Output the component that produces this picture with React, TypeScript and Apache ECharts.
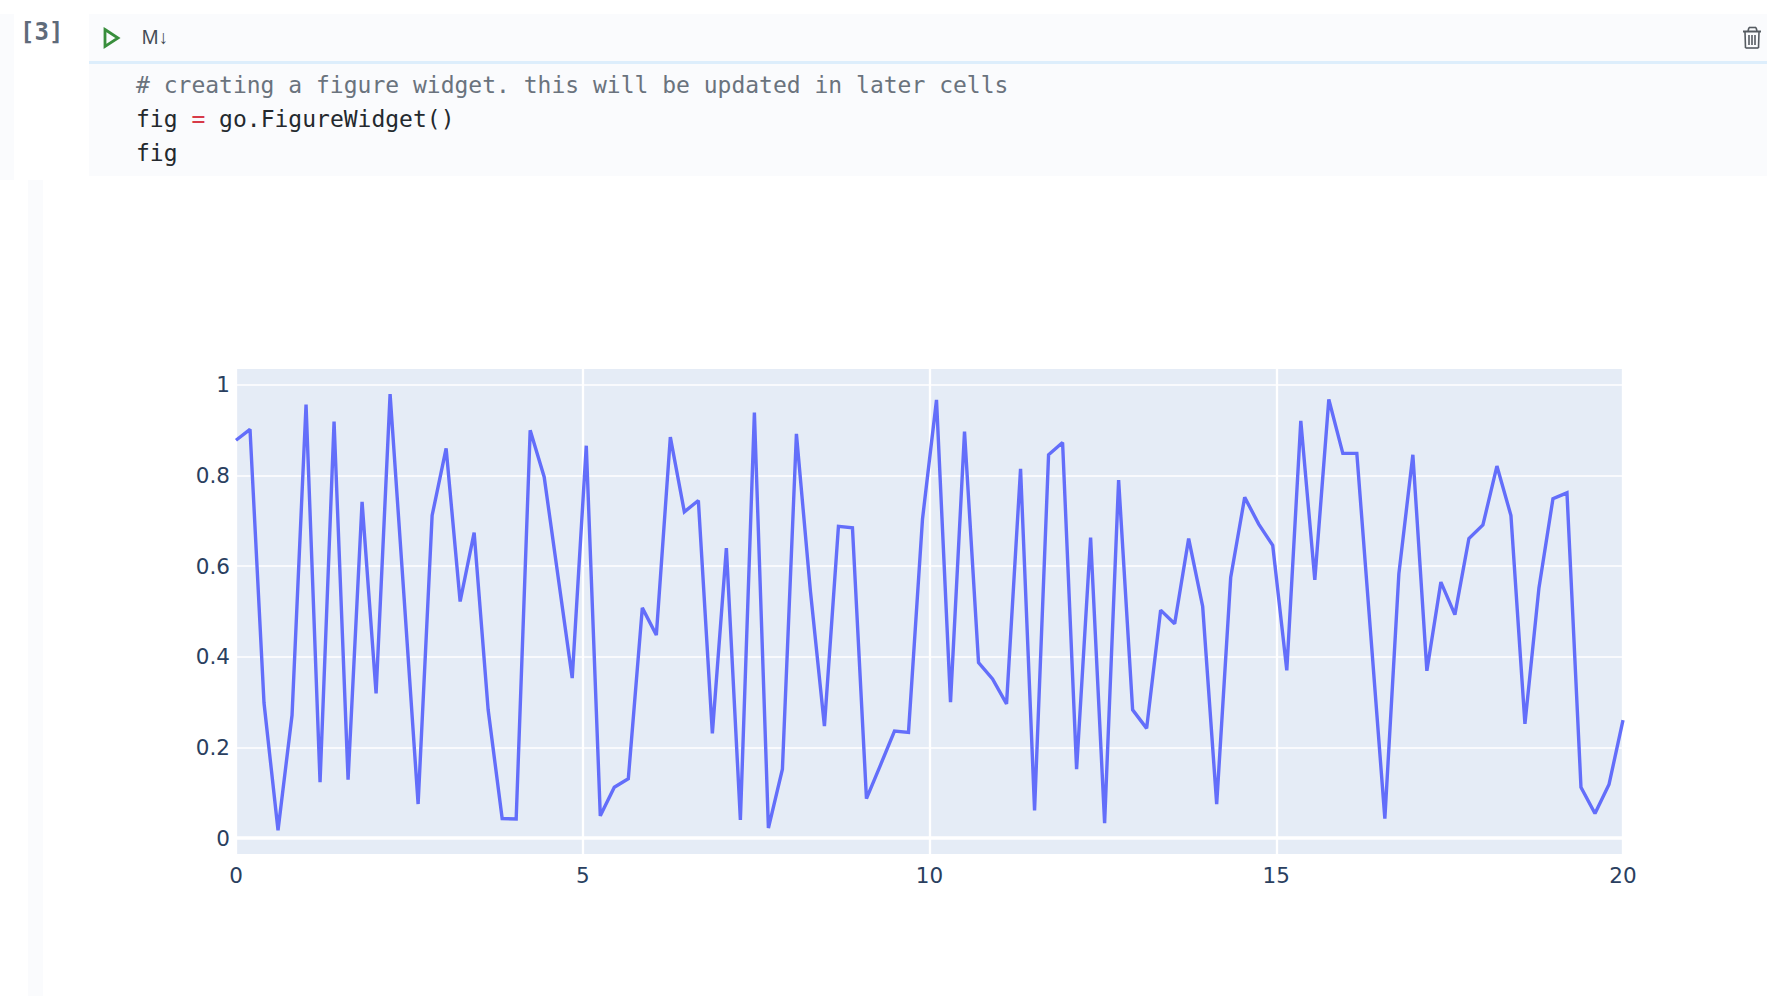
import React, { useEffect, useRef } from "react";
import * as echarts from "echarts";

const xValues = [
  0, 0.202, 0.404, 0.606, 0.808, 1.01, 1.212, 1.414, 1.616, 1.818,
  2.02, 2.222, 2.424, 2.626, 2.828, 3.03, 3.232, 3.434, 3.636, 3.838,
  4.04, 4.242, 4.444, 4.646, 4.848, 5.051, 5.253, 5.455, 5.657, 5.859,
  6.061, 6.263, 6.465, 6.667, 6.869, 7.071, 7.273, 7.475, 7.677, 7.879,
  8.081, 8.283, 8.485, 8.687, 8.889, 9.091, 9.293, 9.495, 9.697, 9.899,
  10.101, 10.303, 10.505, 10.707, 10.909, 11.111, 11.313, 11.515, 11.717, 11.919,
  12.121, 12.323, 12.525, 12.727, 12.929, 13.131, 13.333, 13.535, 13.737, 13.939,
  14.141, 14.343, 14.545, 14.747, 14.949, 15.152, 15.354, 15.556, 15.758, 15.96,
  16.162, 16.364, 16.566, 16.768, 16.97, 17.172, 17.374, 17.576, 17.778, 17.98,
  18.182, 18.384, 18.586, 18.788, 18.99, 19.192, 19.394, 19.596, 19.798, 20,
];

const yValues = [
  0.878, 0.902, 0.298, 0.017, 0.271, 0.957, 0.123, 0.919, 0.129, 0.742,
  0.319, 0.98, 0.53, 0.075, 0.712, 0.86, 0.522, 0.674, 0.283, 0.043,
  0.042, 0.9, 0.797, 0.575, 0.353, 0.866, 0.049, 0.112, 0.131, 0.508,
  0.448, 0.885, 0.72, 0.745, 0.231, 0.64, 0.04, 0.939, 0.022, 0.152,
  0.892, 0.545, 0.247, 0.688, 0.685, 0.087, 0.161, 0.236, 0.233, 0.704,
  0.967, 0.3, 0.897, 0.387, 0.351, 0.296, 0.815, 0.061, 0.846, 0.873,
  0.152, 0.663, 0.033, 0.79, 0.283, 0.242, 0.503, 0.473, 0.661, 0.511,
  0.075, 0.575, 0.752, 0.693, 0.646, 0.37, 0.921, 0.57, 0.968, 0.849,
  0.849, 0.446, 0.043, 0.583, 0.846, 0.369, 0.565, 0.493, 0.661, 0.691,
  0.821, 0.712, 0.252, 0.552, 0.749, 0.762, 0.112, 0.054, 0.118, 0.26,
];

const yTicks = [0, 0.2, 0.4, 0.6, 0.8, 1];
const commentLine = "# creating a figure widget. this will be updated in later cells";
const codeFig = "fig";
const codeEquals = "=";
const codeCall = "go.FigureWidget()";
const promptLabel = "[3]";
const cellKind = "M↓";

const MONO = "'DejaVu Sans Mono', monospace";
const CHAR = 13.85;
const PANEL = "#fafbfd";

function codeText(text: string, col: number, y: number, fill: string) {
  return {
    type: "text",
    x: 136 + col * CHAR,
    y,
    silent: true,
    style: { text, fill, font: `23px ${MONO}`, textVerticalAlign: "middle" },
  };
}

function panel(x: number, y: number, width: number, height: number, fill = PANEL) {
  return { type: "rect", silent: true, shape: { x, y, width, height }, style: { fill } };
}

function trashLine(x1: number, y1: number, x2: number, y2: number, lineWidth = 1.6) {
  return {
    type: "line",
    silent: true,
    shape: { x1, y1, x2, y2 },
    style: { stroke: "#555b61", lineWidth },
  };
}

const chrome = [
  panel(0, 14, 14, 166),
  panel(89, 14, 1678, 162),
  panel(89, 61, 1678, 3, "#ddeefc"),
  panel(28, 180, 15, 816),
  {
    type: "polygon",
    silent: true,
    shape: { points: [[105, 29.5], [118, 38], [105, 46.5]] },
    style: { fill: "none", stroke: "#388e3c", lineWidth: 2.8 },
  },
  {
    type: "text",
    x: 141.5,
    y: 37,
    silent: true,
    style: { text: cellKind, fill: "#444c55", font: "19px 'Noto Sans', sans-serif", textVerticalAlign: "middle" },
  },
  {
    type: "text",
    x: 20,
    y: 31.5,
    silent: true,
    style: { text: promptLabel, fill: "#5f6b7a", font: `bold 24px ${MONO}`, textVerticalAlign: "middle" },
  },
  codeText(commentLine, 0, 85, "#6a737d"),
  codeText(codeFig, 0, 119, "#24292e"),
  codeText(codeEquals, 4, 119, "#d73a49"),
  codeText(codeCall, 6, 119, "#24292e"),
  codeText(codeFig, 0, 153, "#24292e"),
  trashLine(1743, 31.5, 1761, 31.5, 2),
  trashLine(1748, 31, 1749, 27.5),
  trashLine(1749, 27.5, 1756, 27.5),
  trashLine(1756, 27.5, 1757, 31),
  trashLine(1745, 32, 1745.5, 48),
  trashLine(1745.5, 48, 1758.5, 48),
  trashLine(1758.5, 48, 1759, 32),
  trashLine(1749, 35, 1749, 45),
  trashLine(1752, 35, 1752, 45),
  trashLine(1755, 35, 1755, 45),
];

export default function App() {
  const ref = useRef<HTMLDivElement>(null);

  useEffect(() => {
    document.body.style.margin = "0";
    document.body.style.overflow = "hidden";
    const chart = echarts.init(ref.current!, undefined, { renderer: "svg" });
    chart.setOption({
      animation: false,
      backgroundColor: "#ffffff",
      graphic: chrome,
      grid: {
        left: 236,
        top: 369,
        width: 1387,
        height: 485,
        show: true,
        backgroundColor: "#e5ecf6",
        borderWidth: 0,
      },
      xAxis: {
        type: "value",
        min: 0,
        max: 20,
        interval: 5,
        axisLine: { show: false },
        axisTick: { show: false },
        axisLabel: { color: "#2a3f5f", fontFamily: "'DejaVu Sans'", fontSize: 21.5, margin: 10 },
        splitLine: { show: true, lineStyle: { color: "#ffffff", width: 2.3 } },
      },
      yAxis: {
        type: "value",
        min: -0.0353,
        max: 1.0353,
        axisLine: { show: false },
        axisTick: { show: false, customValues: yTicks },
        axisLabel: {
          customValues: yTicks,
          color: "#2a3f5f",
          fontFamily: "'DejaVu Sans'",
          fontSize: 21.5,
          margin: 6,
        },
        splitLine: { show: true, lineStyle: { color: "#ffffff", width: 1.6 } },
      },
      series: [
        {
          type: "line",
          data: xValues.map((x, i) => [x, yValues[i]]),
          showSymbol: false,
          symbol: "none",
          lineStyle: { color: "#636efa", width: 3.4, join: "miter", miterLimit: 2, cap: "butt" },
          markLine: {
            silent: true,
            symbol: "none",
            z: 1,
            label: { show: false },
            lineStyle: { color: "#ffffff", width: 3.6, type: "solid" },
            data: [{ yAxis: 0 }],
          },
        },
      ],
    });
    return () => chart.dispose();
  }, []);

  return <div ref={ref} style={{ width: 1774, height: 996 }} />;
}
